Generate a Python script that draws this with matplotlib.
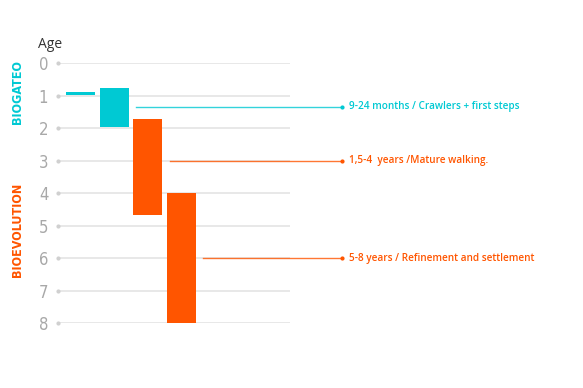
import matplotlib.pyplot as plt
import numpy as np

# age ranges (years) for each floating bar
bar_start = [0.88, 0.77, 1.72, 4.0]
bar_end = [0.98, 1.98, 4.68, 8.0]
bar_group = ['BIOGATEO', 'BIOGATEO', 'BIOEVOLUTION', 'BIOEVOLUTION']

# annotation lines: from which bar, at what age, label text
note_bar = [1, 2, 3]
note_age = [1.35, 3.0, 6.0]
note_text = ['9-24 months / Crawlers + first steps',
             '1,5-4  years /Mature walking.',
             '5-8 years / Refinement and settlement']
note_group = ['BIOGATEO', 'BIOEVOLUTION', 'BIOEVOLUTION']

ages = list(range(0, 9))

colors = {'BIOGATEO': '#00C9D3', 'BIOEVOLUTION': '#FF5500'}

fig = plt.figure(figsize=(5.83, 3.88), dpi=100)
ax = fig.add_axes([58 / 583, 1 - 323 / 388, 232 / 583, 260 / 388])

x = np.arange(len(bar_start))
heights = [e - s for s, e in zip(bar_start, bar_end)]
ax.bar(x, heights, bottom=bar_start, width=0.86,
       color=[colors[g] for g in bar_group], zorder=3)

ax.set_xlim(-0.67, 6.22)
ax.set_ylim(8, 0)
ax.set_yticks(ages)
ax.set_yticklabels([str(a) for a in ages])
ax.set_xticks([])
for a in ages:
    ax.axhline(a, color='#e4e4e4', lw=1.2, zorder=1)
    ax.plot(-0.67, a, 'o', ms=2, color='#d0d0d0', clip_on=False, zorder=2)
for s in ax.spines.values():
    s.set_visible(False)
ax.tick_params(axis='y', length=0, pad=7, labelsize=12, labelcolor='#a8a8a8')
for lbl in ax.get_yticklabels():
    lbl.set_family('DejaVu Sans')
    lbl.set_stretch('condensed')

# annotation lines and labels
for b, age, txt, g in zip(note_bar, note_age, note_text, note_group):
    c = colors[g]
    x0 = b + 0.43 + 0.22
    ax.plot([x0, 7.76], [age, age], color=c, lw=1, alpha=0.8, clip_on=False)
    ax.plot(7.76, age, 'o', ms=2, color=c, clip_on=False)
    ax.text(7.97, age, txt, color=c, fontsize=7.2, fontweight='semibold',
            va='center', ha='left', clip_on=False, family='Open Sans')

fig.text(38 / 583, 1 - 45 / 388, 'Age', fontsize=10, color='#333333',
         va='center', ha='left', family='Open Sans')
fig.text(18 / 583, 1 - 92 / 388, 'BIOGATEO', rotation=90, fontsize=9,
         fontweight='bold', color=colors['BIOGATEO'], va='center', ha='center',
         family='DejaVu Sans', stretch='condensed')
fig.text(18 / 583, 1 - 230 / 388, 'BIOEVOLUTION', rotation=90, fontsize=9,
         fontweight='bold', color=colors['BIOEVOLUTION'], va='center', ha='center',
         family='DejaVu Sans', stretch='condensed')

fig.savefig('out.png', dpi=100)
